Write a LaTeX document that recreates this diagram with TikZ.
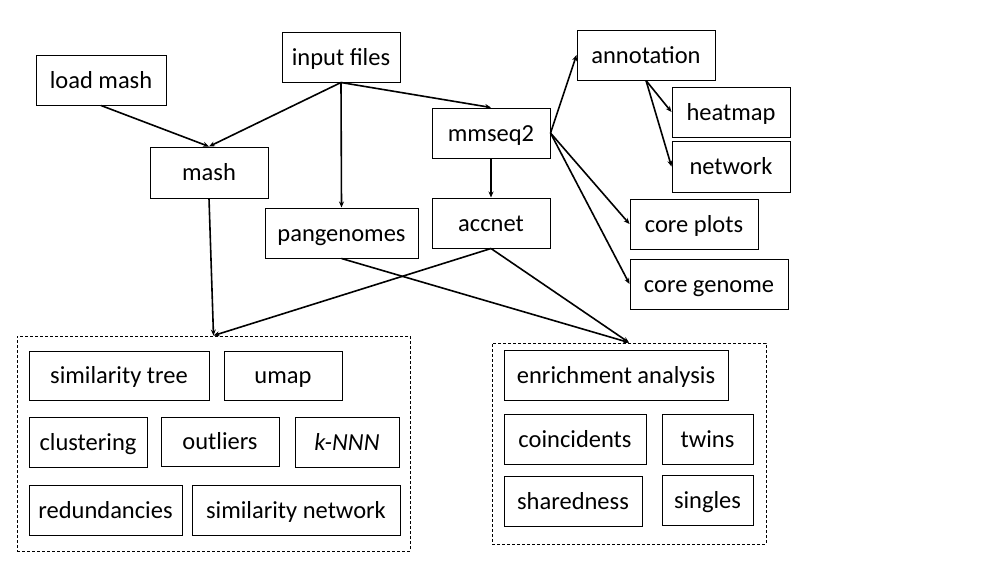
\documentclass[tikz,border=0pt]{standalone}
\usepackage{fontspec}
\setmainfont{Carlito}
\usetikzlibrary{arrows.meta}
\begin{document}
\begin{tikzpicture}[x=1pt,y=-1pt,
  box/.style={draw=black,line width=1pt,inner sep=0pt,text height=18pt,text depth=2pt,font=\fontsize{24.5}{29}\selectfont},
  grp/.style={draw=black,line width=0.9pt,dash pattern=on 3pt off 2pt,inner sep=0pt},
  conn/.style={line width=1.6pt,-{Stealth[length=6pt,width=5pt]}}]
\useasboundingbox (0,0) rectangle (1000,563);
\fill[white] (0,0) rectangle (1000,563);
% helper: node at center with size
\newcommand{\bx}[6]{\node[box,minimum width=#3-#1,minimum height=#4-#2] (#5) at ({(#1+#3)/2},{(#2+#4)/2}) {#6};}
\bx{36}{55}{166}{105}{loadmash}{load mash}
\bx{282}{32}{400}{82}{input}{input files}
\bx{150}{147}{268}{198}{mash}{mash}
\bx{265}{208}{418}{258}{pan}{pangenomes}
\bx{432}{108}{550}{158}{mmseq}{mmseq2}
\bx{432}{198}{550}{248}{accnet}{accnet}
\bx{577}{30}{715}{80}{annot}{annotation}
\bx{672}{87}{790}{137}{heat}{heatmap}
\bx{672}{141}{790}{192}{net}{network}
\bx{630}{199}{758}{249}{coreplots}{core plots}
\bx{630}{259}{788}{309}{coregen}{core genome}
% groups
\node[grp,minimum width=393,minimum height=215] (leftg) at (213.5,443.5) {};
\node[grp,minimum width=274,minimum height=201] (rightg) at (629,443.5) {};
\bx{29}{351}{209}{400}{simtree}{similarity tree}
\bx{224}{351}{342}{400}{umap}{umap}
\bx{29}{417}{147}{467}{clust}{clustering}
\bx{161}{417}{279}{466}{outl}{outliers}
\bx{295}{417}{399}{467}{knnn}{\textit{k-NNN}}
\bx{29}{485}{182}{535}{redund}{redundancies}
\bx{192}{485}{400}{535}{simnet}{similarity network}
\bx{504}{350}{728}{400}{enrich}{enrichment analysis}
\bx{504}{414}{646}{464}{coinc}{coincidents}
\bx{662}{414}{753}{464}{twins}{twins}
\bx{504}{476}{642}{526}{shared}{sharedness}
\bx{662}{475}{753}{525}{singles}{singles}
% connectors
\draw[conn] (loadmash.south) -- (mash.north);
\draw[conn] (input.south) -- (mash.north);
\draw[conn] (input.south) -- (pan.north);
\draw[conn] (input.south) -- (mmseq.north);
\draw[conn] (mmseq.south) -- (accnet.north);
\draw[conn] (mmseq.east) -- (annot.west);
\draw[conn] (mmseq.east) -- (coreplots.west);
\draw[conn] (mmseq.east) -- (coregen.west);
\draw[conn] (annot.south) -- (heat.west);
\draw[conn] (annot.south) -- (net.west);
\draw[conn] (mash.south) -- (leftg.north);
\draw[conn] (accnet.south) -- (leftg.north);
\draw[conn] (accnet.south) -- (rightg.north);
\draw[conn] (pan.south) -- (rightg.north);
\end{tikzpicture}
\end{document}
